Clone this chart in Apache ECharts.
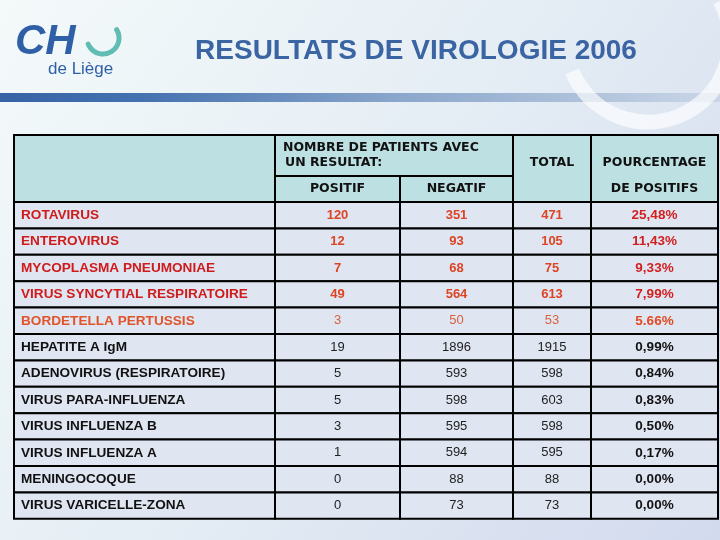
<!DOCTYPE html>
<html>
<head>
<meta charset="utf-8">
<title>Resultats de virologie 2006</title>
<script src="https://cdn.jsdelivr.net/npm/echarts@6/dist/echarts.min.js"></script>
<style>
  html, body { margin: 0; padding: 0; }
  #chart { width: 720px; height: 540px; }
</style>
</head>
<body>
<div id="chart"></div>
<script>
// table data
var names = [
  'ROTAVIRUS',
  'ENTEROVIRUS',
  'MYCOPLASMA PNEUMONIAE',
  'VIRUS SYNCYTIAL RESPIRATOIRE',
  'BORDETELLA PERTUSSIS',
  'HEPATITE A IgM',
  'ADENOVIRUS (RESPIRATOIRE)',
  'VIRUS PARA-INFLUENZA',
  'VIRUS INFLUENZA B',
  'VIRUS INFLUENZA A',
  'MENINGOCOQUE',
  'VIRUS VARICELLE-ZONA'
]
var positif = [120, 12, 7, 49, 3, 19, 5, 5, 3, 1, 0, 0]
var negatif = [351, 93, 68, 564, 50, 1896, 593, 598, 595, 594, 88, 73]
var total = [471, 105, 75, 613, 53, 1915, 598, 603, 598, 595, 88, 73]
var pourcentage = ['25,48%', '11,43%', '9,33%', '7,99%', '5.66%', '0,99%', '0,84%', '0,83%', '0,50%', '0,17%', '0,00%', '0,00%']

// layout (table units = pixels inside the grid)
var colEdges = [0, 261, 386, 499, 577, 704]
var headerH = 67
var subH = 41
var rowH = 26.4
var font = '"Liberation Sans", Arial, sans-serif'
var headFont = '"DejaVu Sans", sans-serif'

function rowColors(i) {
  if (i < 4) return {name: '#cf1b1b', num: '#dc4423', pct: '#d21f1f', numWeight: 'bold'}
  if (i === 4) return {name: '#e0542c', num: '#d9603e', pct: '#e14a22', numWeight: 'normal'}
  return {name: '#111', num: '#222', pct: '#111', numWeight: 'normal'}
}

function cell(api, x0, y0, x1, y1, fill) {
  var a = api.coord([x0, y0])
  var b = api.coord([x1, y1])
  return {
    type: 'rect',
    shape: {x: a[0], y: a[1], width: b[0] - a[0], height: b[1] - a[1]},
    style: {fill: fill, stroke: '#000', lineWidth: 2}
  }
}

function label(api, x, y, text, color, fontStr, align) {
  var p = api.coord([x, y])
  return {
    type: 'text',
    z2: 10,
    style: {
      text: text, x: p[0], y: p[1],
      align: align || 'center', verticalAlign: 'middle',
      font: fontStr,
      fill: color
    }
  }
}

function renderHeader(params, api) {
  var teal = '#bde0e3'
  var c = colEdges
  var hf = 'bold 12.5px ' + headFont
  var kids = [
    cell(api, c[0], 0, c[1], headerH, teal),
    cell(api, c[1], 0, c[3], subH, teal),
    cell(api, c[1], subH, c[2], headerH, teal),
    cell(api, c[2], subH, c[3], headerH, teal),
    cell(api, c[3], 0, c[4], headerH, teal),
    cell(api, c[4], 0, c[5], headerH, teal),
    label(api, c[1] + 8, 13, 'NOMBRE DE PATIENTS AVEC', '#111', hf, 'left'),
    label(api, c[1] + 10, 28, 'UN RESULTAT:', '#111', hf, 'left'),
    label(api, (c[1] + c[2]) / 2, 54, 'POSITIF', '#111', hf),
    label(api, (c[2] + c[3]) / 2, 54, 'NEGATIF', '#111', hf),
    label(api, (c[3] + c[4]) / 2, 28, 'TOTAL', '#111', hf),
    label(api, (c[4] + c[5]) / 2, 28, 'POURCENTAGE', '#111', hf),
    label(api, (c[4] + c[5]) / 2, 54, 'DE POSITIFS', '#111', hf)
  ]
  return {type: 'group', children: kids}
}

function renderRow(params, api) {
  var i = api.value(0)
  var y0 = headerH + i * rowH
  var y1 = y0 + rowH
  var ym = (y0 + y1) / 2
  var c = colEdges
  var bg = '#dfe6f2'
  var col = rowColors(i)
  var numFont = col.numWeight + ' 13px ' + font
  var kids = []
  for (var k = 0; k < 5; k++) {
    kids.push(cell(api, c[k], y0, c[k + 1], y1, bg))
  }
  kids.push(label(api, c[0] + 7, ym, names[i], col.name, 'bold 13.6px ' + font, 'left'))
  kids.push(label(api, (c[1] + c[2]) / 2, ym, String(positif[i]), col.num, numFont))
  kids.push(label(api, (c[2] + c[3]) / 2, ym, String(negatif[i]), col.num, numFont))
  kids.push(label(api, (c[3] + c[4]) / 2, ym, String(total[i]), col.num, numFont))
  kids.push(label(api, (c[4] + c[5]) / 2, ym, pourcentage[i], col.pct, 'bold 13.5px ' + font))
  return {type: 'group', children: kids}
}

var chart = echarts.init(document.getElementById('chart'))
chart.setOption({
  animation: false,
  graphic: [
    {
      type: 'rect', z: -10,
      shape: {x: 0, y: 0, width: 720, height: 540},
      style: {
        fill: new echarts.graphic.LinearGradient(0, 0, 1, 1, [
          {offset: 0, color: '#f4fafa'},
          {offset: 0.45, color: '#e6eef5'},
          {offset: 1, color: '#d2daee'}
        ])
      }
    },
    {
      type: 'rect', z: -5,
      shape: {x: 0, y: 93, width: 720, height: 9},
      style: {
        fill: new echarts.graphic.LinearGradient(0, 0, 1, 0, [
          {offset: 0, color: '#3763a6'},
          {offset: 0.2, color: '#4572b0'},
          {offset: 0.55, color: '#8aa6cb'},
          {offset: 1, color: '#cad6e6'}
        ])
      }
    },
    {
      type: 'arc', z: -4,
      shape: {cx: 648, cy: 40, r: 82, startAngle: -0.5, endAngle: 2.75, clockwise: true},
      style: {fill: 'none', stroke: 'rgba(255,255,255,0.65)', lineWidth: 15}
    },
    {
      type: 'text', z: 5,
      style: {
        text: 'RESULTATS DE VIROLOGIE 2006', x: 416, y: 51,
        align: 'center', verticalAlign: 'middle',
        font: 'bold 28px ' + font, fill: '#3a64a2'
      }
    },
    {
      type: 'text', z: 5,
      style: {
        text: 'CH', x: 15, y: 42, align: 'left', verticalAlign: 'middle',
        font: 'italic bold 42px ' + font, fill: '#2f5fa6'
      }
    },
    {
      type: 'arc', z: 5,
      shape: {cx: 103, cy: 38, r: 16, startAngle: -0.55, endAngle: 2.75, clockwise: true},
      style: {fill: 'none', stroke: '#5fbdb3', lineWidth: 5, lineCap: 'round'}
    },
    {
      type: 'text', z: 5,
      style: {
        text: 'de Liège', x: 48, y: 69, align: 'left', verticalAlign: 'middle',
        font: '17px ' + font, fill: '#2f5fa6'
      }
    }
  ],
  grid: {left: 14, top: 135, width: 704, height: 384},
  xAxis: {type: 'value', min: 0, max: 704, show: false},
  yAxis: {type: 'value', min: 0, max: 384, inverse: true, show: false},
  series: [
    {
      type: 'custom',
      renderItem: renderHeader,
      data: [[0]],
      silent: true
    },
    {
      type: 'custom',
      renderItem: renderRow,
      data: names.map(function (n, i) { return [i] }),
      silent: true
    }
  ]
})
</script>
</body>
</html>
